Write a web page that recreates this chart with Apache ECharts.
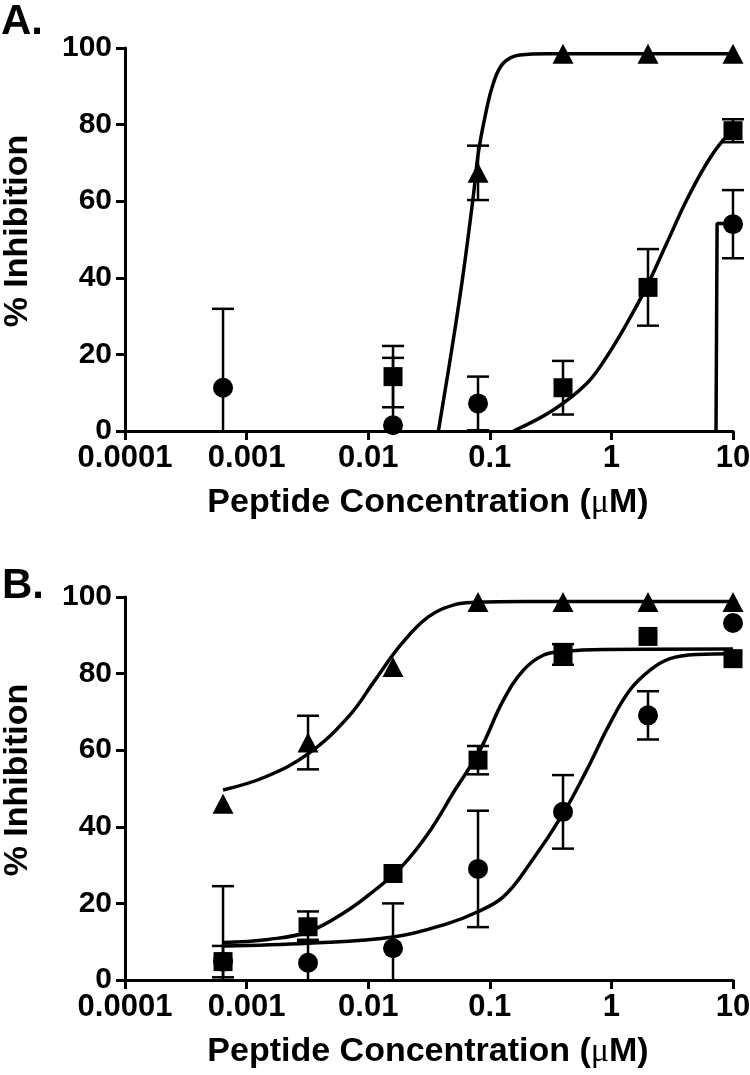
<!DOCTYPE html>
<html><head><meta charset="utf-8">
<script src="https://cdn.jsdelivr.net/npm/echarts/dist/echarts.min.js"></script>
<style>html,body{margin:0;padding:0;background:#fff}#c{width:750px;height:1075px}</style>
</head><body><div id="c"></div>
<script>
// ---------- data ----------
const xTickLabels = ['0.0001', '0.001', '0.01', '0.1', '1', '10'];
const yTicks = [0, 20, 40, 60, 80, 100];
const concs = [0.00064, 0.0032, 0.016, 0.08, 0.4, 2, 10];

// Panel A
const aTriX = [0.08, 0.4, 2, 10];
const aTriY = [67.4, 98.5, 98.5, 98.5];
const aTriErr = [7.1, 0, 0, 0];
const aSqX = [0.016, 0.4, 2, 10];
const aSqY = [14.2, 11.3, 37.5, 78.4];
const aSqErr = [8, 7, 10, 3];
const aCirX = [0.00064, 0.016, 0.08, 10];
const aCirY = [11.3, 1.5, 7.2, 54];
const aCirErr = [20.6, 17.6, 7, 8.9];
const aTriFit = [[0.0378,0],[0.0501,23.8],[0.0605,41.2],[0.0731,61.2],[0.0804,72.5],[0.0914,82.1],[0.107,90.8],[0.129,96.0],[0.177,98.2],[0.3,98.5],[10,98.5]];
const aSqFit = [[0.156,0],[0.333,5.5],[0.626,12.4],[0.915,19.4],[1.34,28.1],[1.95,37.7],[2.85,49.0],[4.16,60.3],[6.08,69.9],[8.32,76.0],[10,78.0]];
const aCirFit = [[7.25,0],[7.4,54.2],[10,54.2]];

// Panel B
const bTriY = [46, 62, 81.7, 98.7, 98.7, 98.7, 98.7];
const bTriErr = [0, 7, 0, 0, 0, 0, 0];
const bSqY = [4.8, 13.9, 27.8, 57.4, 85, 89.7, 83.9];
const bSqErr = [19.7, 4, 0, 3.7, 2.7, 0, 0];
const bCirY = [4.8, 4.5, 8.3, 29, 43.9, 69.1, 93.2];
const bCirErr = [4.1, 6, 11.7, 15.2, 9.6, 6.3, 0];
const bTriFit = [[0.00064,49.6],[0.00142,53.0],[0.00322,59.1],[0.00686,68.7],[0.01138,78.3],[0.01885,87.8],[0.0312,94.8],[0.0517,98.0],[0.0755,98.6],[0.2,98.8],[10,98.8]];
const bSqFit = [[0.00064,9.8],[0.0015,10.6],[0.00322,12.6],[0.00686,18.3],[0.01138,23.5],[0.01885,29.6],[0.0312,38.3],[0.0517,49.6],[0.083,60.0],[0.129,73.0],[0.189,80.9],[0.275,84.8],[0.402,85.8],[0.858,86.3],[10,86.4]];
const bCirFit = [[0.00064,8.9],[0.00322,9.6],[0.0166,11.3],[0.0456,14.8],[0.0755,17.5],[0.129,21.7],[0.214,30.4],[0.402,43.5],[0.626,54.8],[0.973,67.0],[1.42,75.7],[2.08,80.9],[3.03,83.9],[5.03,85.0],[10,85.2]];

// ---------- chart ----------
const FONT = '"Liberation Sans", Arial, Helvetica, sans-serif';
const chart = echarts.init(document.getElementById('c'), null, {renderer: 'canvas'});

function zip3(xs, ys, es) { return xs.map((x, i) => [x, ys[i], es[i]]); }
function zip2(xs, ys) { return xs.map((x, i) => [x, ys[i]]); }

function errRender(params, api) {
  const x = api.value(0), m = api.value(1), e = api.value(2);
  if (!e) return null;
  const hi = m + e, lo = m - e;
  const pT = api.coord([x, Math.min(hi, 100)]);
  const pB = api.coord([x, Math.max(lo, 0)]);
  const hw = 11;
  const st = {stroke: '#000', lineWidth: 2.5};
  const ch = [{type: 'line', shape: {x1: pT[0], y1: pT[1], x2: pB[0], y2: pB[1]}, style: st}];
  if (hi <= 100) ch.push({type: 'line', shape: {x1: pT[0]-hw, y1: pT[1], x2: pT[0]+hw, y2: pT[1]}, style: st});
  if (lo >= 0) ch.push({type: 'line', shape: {x1: pB[0]-hw, y1: pB[1], x2: pB[0]+hw, y2: pB[1]}, style: st});
  return {type: 'group', children: ch};
}

function xAxis(gi) {
  return {
    type: 'log', logBase: 10, gridIndex: gi, min: 0.0001, max: 10,
    axisLine: {show: true, lineStyle: {color: '#000', width: 3}},
    axisTick: {show: true, inside: false, length: 9, lineStyle: {color: '#000', width: 3}},
    minorTick: {show: false},
    splitLine: {show: false},
    axisLabel: {
      show: true, margin: 12, color: '#000', fontSize: 31, fontWeight: 'bold', fontFamily: FONT,
      hideOverlap: false, showMinLabel: true, showMaxLabel: true,
      formatter: v => xTickLabels[Math.round(Math.log10(v)) + 4]
    }
  };
}
function yAxis(gi) {
  return {
    type: 'value', gridIndex: gi, min: 0, max: 100, interval: 20,
    axisLine: {show: true, lineStyle: {color: '#000', width: 3}},
    axisTick: {show: true, inside: false, length: 9, lineStyle: {color: '#000', width: 3}},
    splitLine: {show: false},
    axisLabel: {
      show: true, margin: 13, color: '#000', fontSize: 30, fontWeight: 'bold', fontFamily: FONT,
      formatter: v => String(yTicks[Math.round(v / 20)])
    }
  };
}

function fitSeries(data, gi, smooth) {
  return {type: 'line', xAxisIndex: gi, yAxisIndex: gi, data: data, smooth: smooth,
    symbol: 'none', silent: true, z: 3, clip: false,
    lineStyle: {color: '#000', width: 3.5}};
}
function errSeries(data, gi) {
  return {type: 'custom', xAxisIndex: gi, yAxisIndex: gi, data: data, renderItem: errRender,
    encode: {x: 0, y: 1}, z: 2, silent: true, clip: false};
}
function ptSeries(data, gi, symbol, size) {
  return {type: 'scatter', xAxisIndex: gi, yAxisIndex: gi, data: data, symbol: symbol, symbolSize: size,
    itemStyle: {color: '#000', opacity: 1}, z: 4, silent: true, clip: false};
}

const xTitleRich = {
  b: {fontFamily: FONT, fontWeight: 'bold', fontSize: 34, fill: '#000', color: '#000'},
  m: {fontFamily: '"Liberation Serif", "DejaVu Serif", serif', fontWeight: 'normal', fontSize: 34, fill: '#000', color: '#000'}
};
const xTitleText = '{b|Peptide Concentration (}{m|\u03BC}{b|M)}';

const option = {
  backgroundColor: '#fff',
  animation: false,
  grid: [
    {left: 125, top: 48, width: 608, height: 383, outerBoundsMode: 'none', containLabel: false},
    {left: 125, top: 597, width: 608, height: 383, outerBoundsMode: 'none', containLabel: false}
  ],
  xAxis: [xAxis(0), xAxis(1)],
  yAxis: [yAxis(0), yAxis(1)],
  series: [
    fitSeries(aTriFit, 0, 0.4),
    fitSeries(aSqFit, 0, 0.4),
    fitSeries(aCirFit, 0, false),
    errSeries(zip3(aTriX, aTriY, aTriErr), 0),
    errSeries(zip3(aSqX, aSqY, aSqErr), 0),
    errSeries(zip3(aCirX, aCirY, aCirErr), 0),
    ptSeries(zip2(aCirX, aCirY), 0, 'circle', 20),
    ptSeries(zip2(aSqX, aSqY), 0, 'rect', 19),
    ptSeries(zip2(aTriX, aTriY), 0, 'triangle', [21, 20]),

    fitSeries(bTriFit, 1, 0.4),
    fitSeries(bSqFit, 1, 0.4),
    fitSeries(bCirFit, 1, 0.4),
    errSeries(zip3(concs, bTriY, bTriErr), 1),
    errSeries(zip3(concs, bSqY, bSqErr), 1),
    errSeries(zip3(concs, bCirY, bCirErr), 1),
    ptSeries(zip2(concs, bCirY), 1, 'circle', 20),
    ptSeries(zip2(concs, bSqY), 1, 'rect', 19),
    ptSeries(zip2(concs, bTriY), 1, 'triangle', [21, 20])
  ],
  graphic: [
    {type: 'text', left: 1, top: 1, style: {text: 'A.', fill: '#000', font: 'bold 42px ' + FONT}},
    {type: 'text', left: 2, top: 565, style: {text: 'B.', fill: '#000', font: 'bold 42px ' + FONT}},
    {type: 'text', x: 18, y: 231, rotation: Math.PI / 2,
      style: {text: '% Inhibition', fill: '#000', font: 'bold 34px ' + FONT, align: 'center', verticalAlign: 'middle'}},
    {type: 'text', x: 18, y: 780, rotation: Math.PI / 2,
      style: {text: '% Inhibition', fill: '#000', font: 'bold 34px ' + FONT, align: 'center', verticalAlign: 'middle'}},
    {type: 'text', x: 428, y: 503, style: {text: xTitleText, rich: xTitleRich, fill: '#000', font: 'bold 34px ' + FONT, align: 'center', verticalAlign: 'middle'}},
    {type: 'text', x: 428, y: 1052, style: {text: xTitleText, rich: xTitleRich, fill: '#000', font: 'bold 34px ' + FONT, align: 'center', verticalAlign: 'middle'}}
  ]
};
chart.setOption(option);
</script>
</body></html>
